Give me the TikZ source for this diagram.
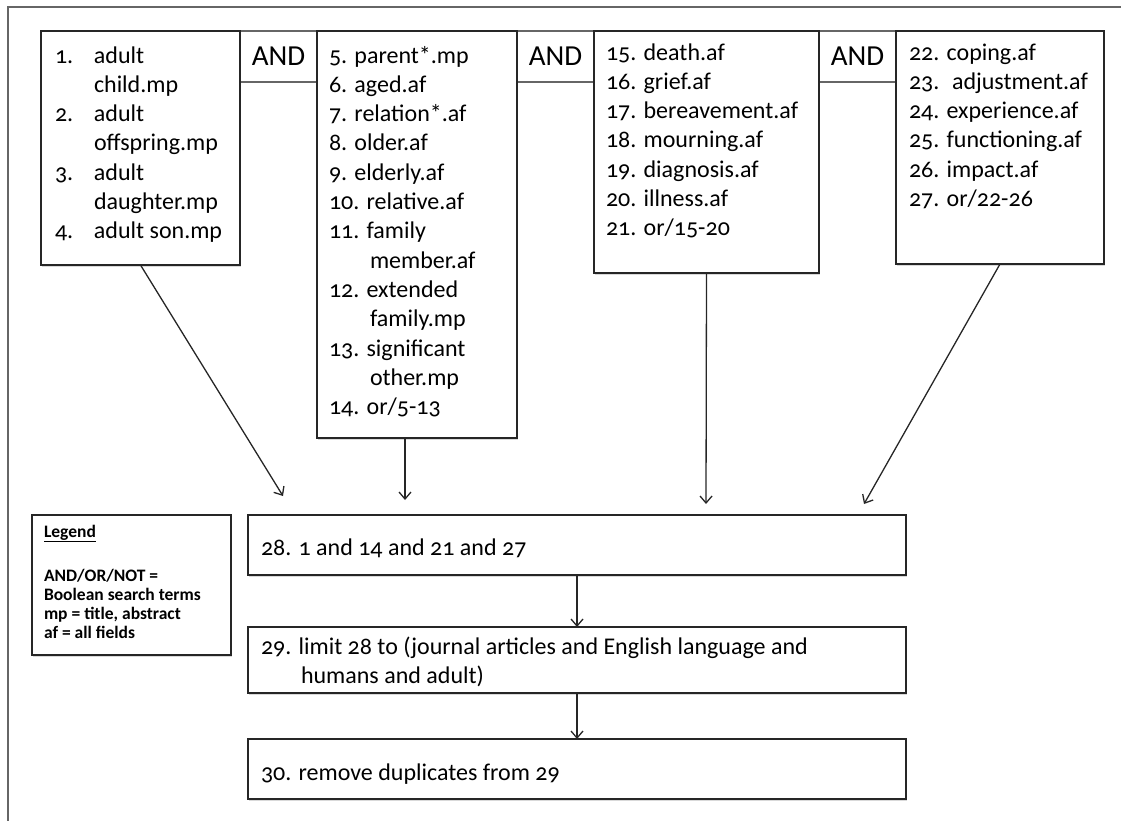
\documentclass[tikz,border=0pt]{standalone}
\usepackage{fontspec}
\setmainfont{Carlito}[Numbers=OldStyle]
\usetikzlibrary{arrows.meta,positioning,shadows}

\newcommand{\boxtext}[4]{\parbox[b][#2][t]{#1}{\raggedright\rule{0pt}{#3}#4}}
\newcommand{\numcol}[2]{\makebox[#1][l]{#2}}

\begin{document}
\begin{tikzpicture}[
  x=1pt, y=-1pt, >={Straight Barb[length=7pt,width=12pt]},
  font=\fontsize{24}{29.3}\selectfont,
  box/.style={
    draw=black!85, fill=white, line width=1.6pt,
    inner xsep=#1, inner ysep=0pt, outer sep=0pt, anchor=north west,
    drop shadow={shadow xshift=1.2pt, shadow yshift=-1.5pt, opacity=0.3}
  },
  box/.default=13pt,
  andbox/.style={
    draw=black!60, fill=white, line width=1.6pt, font=\fontsize{29}{32}\selectfont,
    minimum width=77pt, minimum height=51pt, inner sep=0pt, outer sep=0pt,
    anchor=north west,
    drop shadow={shadow xshift=1.2pt, shadow yshift=-1.5pt, opacity=0.3}
  },
  arr/.style={->, line width=1.3pt, draw=black!85},
  frame/.style={draw=black!60, line width=2pt}
]
\def\rowT{31} \def\rowA{515} \def\rowB{627} \def\rowC{739}
\useasboundingbox (0,0) rectangle (1121,821);
\draw[frame] (1121,7) -- (8,7) -- (8,821);

\node[andbox] (and1) at (240,\rowT) {AND};
\node[andbox] (and2) at (517,\rowT) {AND};
\node[andbox] (and3) at (819,\rowT) {AND};

\node[box=14pt] (b1) at (41,\rowT) {\boxtext{171pt}{234pt}{32pt}{%
  \numcol{39pt}{1.}adult\\
  \numcol{39pt}{}child.mp\\
  \numcol{39pt}{2.}adult\\
  \numcol{39pt}{}offspring.mp\\
  \numcol{39pt}{3.}adult\\
  \numcol{39pt}{}daughter.mp\\
  \numcol{39pt}{4.}adult son.mp}};

\node[box=12pt] (b2) at (317,\rowT) {\boxtext{176pt}{407pt}{32pt}{%
  5. parent*.mp\\
  6. aged.af\\
  7. relation*.af\\
  8. older.af\\
  9. elderly.af\\
  10. relative.af\\
  11. family\\
  \hspace*{41pt}member.af\\
  12. extended\\
  \hspace*{41pt}family.mp\\
  13. significant\\
  \hspace*{41pt}other.mp\\
  14. or/5-13}};

\node[box=12pt] (b3) at (594,\rowT) {\boxtext{201pt}{242pt}{29pt}{%
  15. death.af\\
  16. grief.af\\
  17. bereavement.af\\
  18. mourning.af\\
  19. diagnosis.af\\
  20. illness.af\\
  21. or/15-20}};

\node[box=13pt] (b4) at (896,\rowT) {\boxtext{182pt}{233pt}{29pt}{%
  22. coping.af\\
  23.~ adjustment.af\\
  24. experience.af\\
  25. functioning.af\\
  26. impact.af\\
  27. or/22-26}};

\node[box=12pt, font=\bfseries\fontsize{17.5}{19}\selectfont] (leg) at (32,\rowA)
  {\boxtext{175pt}{140pt}{22pt}{%
  \underline{Legend}\\[25pt]
  AND/OR/NOT =\\
  Boolean search terms\\
  mp = title, abstract\\
  af = all fields}};

\node[box] (b28) at (248,\rowA) {\boxtext{632pt}{60pt}{40pt}{%
  28. 1 and 14 and 21 and 27}};
\node[box] (b29) at (248,\rowB) {\boxtext{632pt}{66pt}{27pt}{%
  29. limit 28 to (journal articles and English language and\\
  \hspace*{40pt}humans and adult)}};
\node[box] (b30) at (248,\rowC) {\boxtext{632pt}{60pt}{41pt}{%
  30. remove duplicates from 29}};

\coordinate (t1) at (283,496);
\coordinate (t2) at (405,500);
\coordinate (t3) at (706,504);
\coordinate (t4) at (864,504);

\draw[arr] (b1.south) -- (t1);
\draw[arr] (t2 |- b2.south) -- (t2);
\draw[arr] (b3.south) -- (t3);
\draw[arr] (b4.south) -- (t4);
\draw[arr] (b28.south) -- (b29.north);
\draw[arr] (b29.south) -- (b30.north);
\end{tikzpicture}
\end{document}
